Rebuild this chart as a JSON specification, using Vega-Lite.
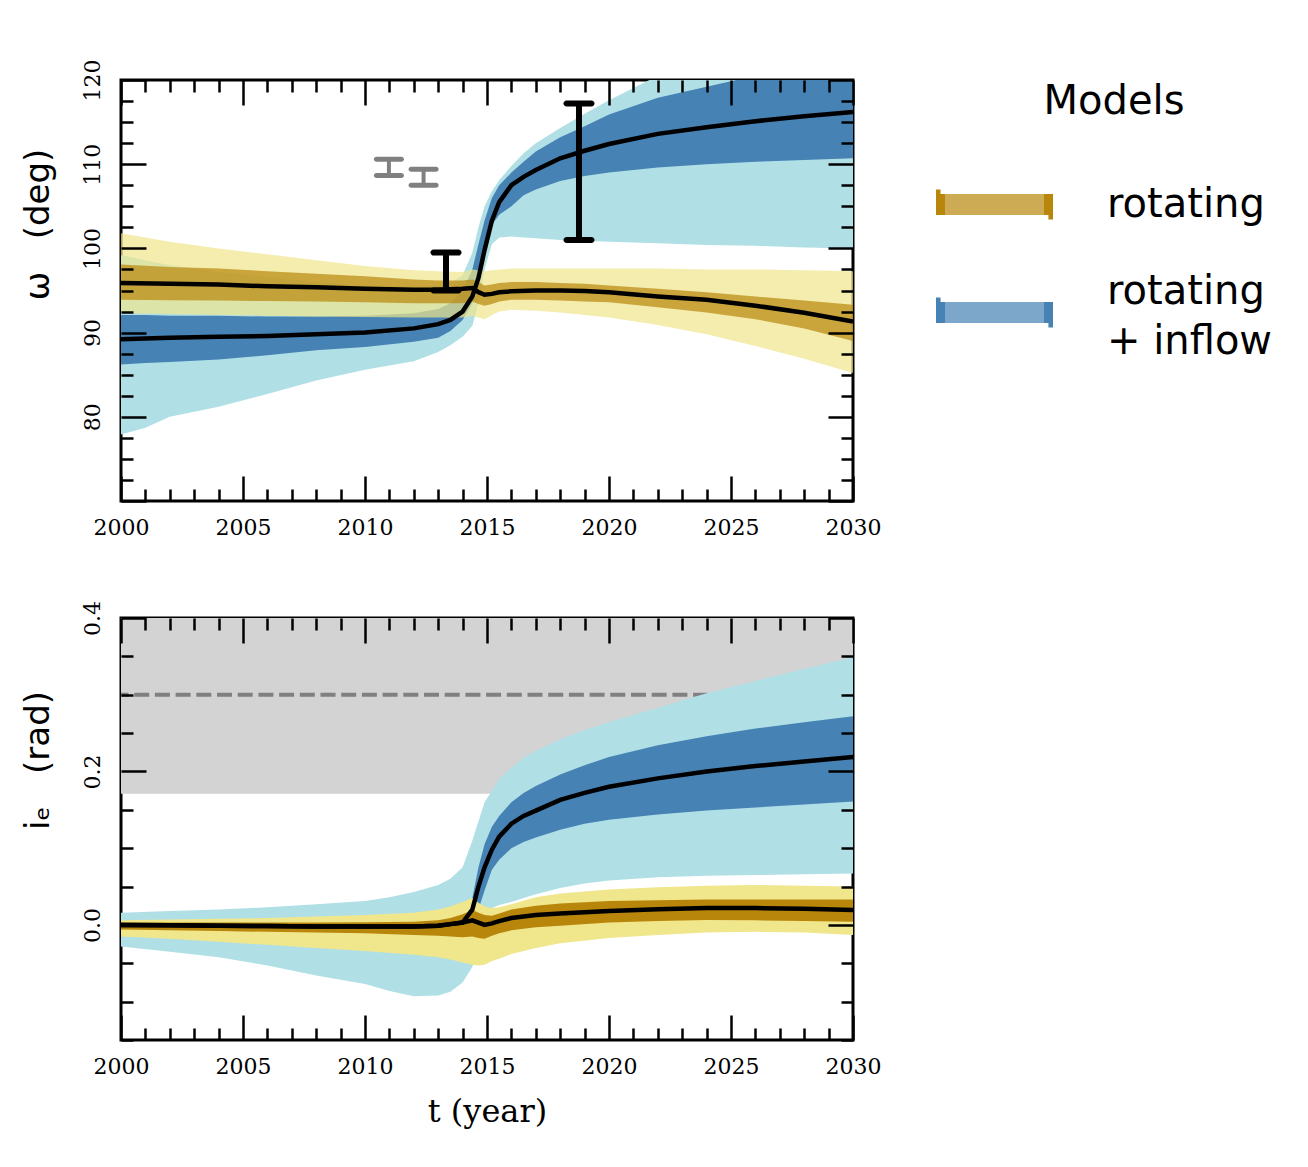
{
  "$schema": "https://vega.github.io/schema/vega-lite/v6.json",
  "background": "white",
  "padding": {"left": 19, "top": 57, "right": 0, "bottom": 0},
  "spacing": 46,
  "config": {
    "view": {"stroke": "black", "strokeWidth": 3},
    "axis": {"zindex": 1, "labelColor": "black", "tickColor": "black", "domain": false, "grid": false, "tickWidth": 2.5, "labelFlush": false, "labelOverlap": false, "labelFont": "DejaVu Serif", "labelFontSize": 22, "titleColor": "black", "titleFontWeight": "normal"}
  },
  "datasets": {
    "omega": [
      {"m":"rotating","t":2000,"lo95":92.3,"lo68":93.9,"mid":95.9,"hi68":98.1,"hi95":101.8},
      {"m":"rotating","t":2002,"lo95":92.2,"lo68":93.85,"mid":95.8,"hi68":97.8,"hi95":100.8},
      {"m":"rotating","t":2004,"lo95":92.1,"lo68":93.8,"mid":95.7,"hi68":97.6,"hi95":100.0},
      {"m":"rotating","t":2006,"lo95":92.0,"lo68":93.75,"mid":95.5,"hi68":97.3,"hi95":99.3},
      {"m":"rotating","t":2008,"lo95":91.9,"lo68":93.7,"mid":95.4,"hi68":97.0,"hi95":98.6},
      {"m":"rotating","t":2010,"lo95":91.85,"lo68":93.6,"mid":95.2,"hi68":96.7,"hi95":97.9},
      {"m":"rotating","t":2012,"lo95":91.8,"lo68":93.5,"mid":95.1,"hi68":96.3,"hi95":97.4},
      {"m":"rotating","t":2013,"lo95":91.8,"lo68":93.5,"mid":95.1,"hi68":96.2,"hi95":97.3},
      {"m":"rotating","t":2014,"lo95":91.8,"lo68":93.5,"mid":95.2,"hi68":96.2,"hi95":97.2},
      {"m":"rotating","t":2014.4,"lo95":92.0,"lo68":93.7,"mid":95.3,"hi68":96.3,"hi95":97.5},
      {"m":"rotating","t":2014.65,"lo95":91.8,"lo68":93.4,"mid":94.8,"hi68":96.0,"hi95":97.4},
      {"m":"rotating","t":2014.9,"lo95":91.6,"lo68":93.2,"mid":94.5,"hi68":95.6,"hi95":97.3},
      {"m":"rotating","t":2015.2,"lo95":92.1,"lo68":93.4,"mid":94.6,"hi68":95.7,"hi95":97.4},
      {"m":"rotating","t":2015.5,"lo95":92.5,"lo68":93.7,"mid":94.8,"hi68":95.9,"hi95":97.5},
      {"m":"rotating","t":2016,"lo95":92.7,"lo68":93.9,"mid":94.9,"hi68":96.0,"hi95":97.6},
      {"m":"rotating","t":2017,"lo95":92.6,"lo68":93.9,"mid":95.0,"hi68":96.0,"hi95":97.6},
      {"m":"rotating","t":2018,"lo95":92.4,"lo68":93.8,"mid":95.0,"hi68":95.9,"hi95":97.6},
      {"m":"rotating","t":2019,"lo95":92.1,"lo68":93.7,"mid":94.95,"hi68":95.8,"hi95":97.6},
      {"m":"rotating","t":2020,"lo95":91.8,"lo68":93.6,"mid":94.8,"hi68":95.6,"hi95":97.6},
      {"m":"rotating","t":2022,"lo95":90.9,"lo68":93.0,"mid":94.3,"hi68":95.2,"hi95":97.6},
      {"m":"rotating","t":2024,"lo95":89.8,"lo68":92.4,"mid":93.9,"hi68":94.8,"hi95":97.5},
      {"m":"rotating","t":2026,"lo95":88.4,"lo68":91.6,"mid":93.2,"hi68":94.3,"hi95":97.5},
      {"m":"rotating","t":2028,"lo95":86.9,"lo68":90.5,"mid":92.35,"hi68":93.8,"hi95":97.4},
      {"m":"rotating","t":2030,"lo95":85.2,"lo68":89.0,"mid":91.3,"hi68":93.3,"hi95":97.3},
      {"m":"rotating + inflow","t":2000,"lo95":77.9,"lo68":86.2,"mid":89.2,"hi68":92.1,"hi95":99.2},
      {"m":"rotating + inflow","t":2001,"lo95":78.7,"lo68":86.4,"mid":89.3,"hi68":92.1,"hi95":98.6},
      {"m":"rotating + inflow","t":2002,"lo95":80.0,"lo68":86.5,"mid":89.4,"hi68":92.0,"hi95":98.0},
      {"m":"rotating + inflow","t":2004,"lo95":81.2,"lo68":86.8,"mid":89.5,"hi68":92.0,"hi95":97.2},
      {"m":"rotating + inflow","t":2006,"lo95":82.7,"lo68":87.3,"mid":89.6,"hi68":91.9,"hi95":96.6},
      {"m":"rotating + inflow","t":2008,"lo95":84.3,"lo68":87.9,"mid":89.8,"hi68":91.9,"hi95":96.0},
      {"m":"rotating + inflow","t":2010,"lo95":85.6,"lo68":88.3,"mid":90.0,"hi68":92.0,"hi95":95.6},
      {"m":"rotating + inflow","t":2012,"lo95":86.6,"lo68":88.9,"mid":90.5,"hi68":92.3,"hi95":95.5},
      {"m":"rotating + inflow","t":2013,"lo95":87.7,"lo68":89.4,"mid":91.0,"hi68":92.8,"hi95":95.6},
      {"m":"rotating + inflow","t":2013.5,"lo95":88.5,"lo68":90.2,"mid":91.5,"hi68":93.5,"hi95":95.9},
      {"m":"rotating + inflow","t":2014,"lo95":89.5,"lo68":91.5,"mid":92.5,"hi68":95.0,"hi95":96.8},
      {"m":"rotating + inflow","t":2014.4,"lo95":90.8,"lo68":93.5,"mid":94.3,"hi68":97.5,"hi95":99.5},
      {"m":"rotating + inflow","t":2014.65,"lo95":93.5,"lo68":96.3,"mid":96.5,"hi68":100.5,"hi95":102.5},
      {"m":"rotating + inflow","t":2014.9,"lo95":97.5,"lo68":99.5,"mid":99.8,"hi68":103.3,"hi95":105.0},
      {"m":"rotating + inflow","t":2015.2,"lo95":100.5,"lo68":102.8,"mid":103.3,"hi68":106.0,"hi95":106.8},
      {"m":"rotating + inflow","t":2015.5,"lo95":101.3,"lo68":104.0,"mid":105.5,"hi68":107.5,"hi95":108.1},
      {"m":"rotating + inflow","t":2016,"lo95":101.4,"lo68":105.0,"mid":107.5,"hi68":109.0,"hi95":109.8},
      {"m":"rotating + inflow","t":2016.5,"lo95":101.3,"lo68":106.3,"mid":108.5,"hi68":110.3,"hi95":111.3},
      {"m":"rotating + inflow","t":2017,"lo95":101.2,"lo68":107.0,"mid":109.3,"hi68":111.5,"hi95":112.5},
      {"m":"rotating + inflow","t":2018,"lo95":101.0,"lo68":108.0,"mid":110.7,"hi68":113.2,"hi95":114.3},
      {"m":"rotating + inflow","t":2019,"lo95":100.9,"lo68":108.6,"mid":111.6,"hi68":114.5,"hi95":116.0},
      {"m":"rotating + inflow","t":2020,"lo95":100.8,"lo68":109.0,"mid":112.4,"hi68":115.9,"hi95":117.6},
      {"m":"rotating + inflow","t":2022,"lo95":100.6,"lo68":109.6,"mid":113.6,"hi68":117.9,"hi95":120.5},
      {"m":"rotating + inflow","t":2024,"lo95":100.4,"lo68":110.0,"mid":114.4,"hi68":119.2,"hi95":122.0},
      {"m":"rotating + inflow","t":2026,"lo95":100.3,"lo68":110.3,"mid":115.1,"hi68":120.5,"hi95":123.5},
      {"m":"rotating + inflow","t":2028,"lo95":100.1,"lo68":110.5,"mid":115.7,"hi68":121.5,"hi95":124.5},
      {"m":"rotating + inflow","t":2030,"lo95":100.0,"lo68":110.7,"mid":116.2,"hi68":122.5,"hi95":125.5}
    ],
    "incl": [
      {"m":"rotating","t":2000,"lo95":-0.015,"lo68":-0.006,"mid":0.0,"hi68":0.003,"hi95":0.006},
      {"m":"rotating","t":2002,"lo95":-0.018,"lo68":-0.007,"mid":-0.0005,"hi68":0.003,"hi95":0.007},
      {"m":"rotating","t":2004,"lo95":-0.022,"lo68":-0.008,"mid":-0.001,"hi68":0.003,"hi95":0.008},
      {"m":"rotating","t":2006,"lo95":-0.026,"lo68":-0.009,"mid":-0.0015,"hi68":0.003,"hi95":0.009},
      {"m":"rotating","t":2008,"lo95":-0.030,"lo68":-0.010,"mid":-0.002,"hi68":0.003,"hi95":0.011},
      {"m":"rotating","t":2010,"lo95":-0.034,"lo68":-0.011,"mid":-0.002,"hi68":0.0035,"hi95":0.013},
      {"m":"rotating","t":2012,"lo95":-0.039,"lo68":-0.013,"mid":-0.002,"hi68":0.004,"hi95":0.016},
      {"m":"rotating","t":2013,"lo95":-0.042,"lo68":-0.014,"mid":-0.001,"hi68":0.006,"hi95":0.020},
      {"m":"rotating","t":2013.5,"lo95":-0.045,"lo68":-0.015,"mid":0.001,"hi68":0.009,"hi95":0.024},
      {"m":"rotating","t":2014,"lo95":-0.049,"lo68":-0.016,"mid":0.003,"hi68":0.014,"hi95":0.030},
      {"m":"rotating","t":2014.4,"lo95":-0.052,"lo68":-0.015,"mid":0.006,"hi68":0.0195,"hi95":0.035},
      {"m":"rotating","t":2014.65,"lo95":-0.053,"lo68":-0.017,"mid":0.003,"hi68":0.016,"hi95":0.029},
      {"m":"rotating","t":2014.9,"lo95":-0.052,"lo68":-0.018,"mid":0.0,"hi68":0.013,"hi95":0.024},
      {"m":"rotating","t":2015.2,"lo95":-0.047,"lo68":-0.014,"mid":0.002,"hi68":0.012,"hi95":0.022},
      {"m":"rotating","t":2015.5,"lo95":-0.044,"lo68":-0.011,"mid":0.005,"hi68":0.015,"hi95":0.023},
      {"m":"rotating","t":2016,"lo95":-0.038,"lo68":-0.007,"mid":0.009,"hi68":0.020,"hi95":0.027},
      {"m":"rotating","t":2017,"lo95":-0.030,"lo68":-0.003,"mid":0.013,"hi68":0.025,"hi95":0.036},
      {"m":"rotating","t":2018,"lo95":-0.024,"lo68":-0.001,"mid":0.015,"hi68":0.028,"hi95":0.041},
      {"m":"rotating","t":2020,"lo95":-0.017,"lo68":0.003,"mid":0.018,"hi68":0.031,"hi95":0.046},
      {"m":"rotating","t":2022,"lo95":-0.013,"lo68":0.005,"mid":0.0205,"hi68":0.032,"hi95":0.049},
      {"m":"rotating","t":2024,"lo95":-0.010,"lo68":0.0065,"mid":0.022,"hi68":0.033,"hi95":0.051},
      {"m":"rotating","t":2026,"lo95":-0.009,"lo68":0.006,"mid":0.022,"hi68":0.033,"hi95":0.052},
      {"m":"rotating","t":2028,"lo95":-0.010,"lo68":0.005,"mid":0.021,"hi68":0.033,"hi95":0.051},
      {"m":"rotating","t":2030,"lo95":-0.013,"lo68":0.004,"mid":0.0195,"hi68":0.033,"hi95":0.050},
      {"m":"rotating + inflow","t":2000,"lo95":-0.028,"lo68":-0.004,"mid":0.0,"hi68":0.004,"hi95":0.016},
      {"m":"rotating + inflow","t":2002,"lo95":-0.035,"lo68":-0.004,"mid":-0.0005,"hi68":0.004,"hi95":0.018},
      {"m":"rotating + inflow","t":2004,"lo95":-0.042,"lo68":-0.005,"mid":-0.001,"hi68":0.004,"hi95":0.020},
      {"m":"rotating + inflow","t":2006,"lo95":-0.053,"lo68":-0.005,"mid":-0.0015,"hi68":0.004,"hi95":0.023},
      {"m":"rotating + inflow","t":2008,"lo95":-0.066,"lo68":-0.006,"mid":-0.002,"hi68":0.004,"hi95":0.027},
      {"m":"rotating + inflow","t":2010,"lo95":-0.077,"lo68":-0.006,"mid":-0.002,"hi68":0.004,"hi95":0.031},
      {"m":"rotating + inflow","t":2011,"lo95":-0.086,"lo68":-0.006,"mid":-0.002,"hi68":0.004,"hi95":0.036},
      {"m":"rotating + inflow","t":2012,"lo95":-0.093,"lo68":-0.006,"mid":-0.002,"hi68":0.005,"hi95":0.043},
      {"m":"rotating + inflow","t":2013,"lo95":-0.092,"lo68":-0.006,"mid":-0.001,"hi68":0.006,"hi95":0.052},
      {"m":"rotating + inflow","t":2013.5,"lo95":-0.087,"lo68":-0.005,"mid":0.001,"hi68":0.008,"hi95":0.060},
      {"m":"rotating + inflow","t":2014,"lo95":-0.075,"lo68":-0.003,"mid":0.003,"hi68":0.012,"hi95":0.075},
      {"m":"rotating + inflow","t":2014.4,"lo95":-0.055,"lo68":0.005,"mid":0.02,"hi68":0.035,"hi95":0.11},
      {"m":"rotating + inflow","t":2014.65,"lo95":-0.02,"lo68":0.02,"mid":0.05,"hi68":0.075,"hi95":0.135},
      {"m":"rotating + inflow","t":2014.9,"lo95":0.01,"lo68":0.045,"mid":0.075,"hi68":0.105,"hi95":0.16},
      {"m":"rotating + inflow","t":2015.2,"lo95":0.022,"lo68":0.072,"mid":0.098,"hi68":0.128,"hi95":0.175},
      {"m":"rotating + inflow","t":2015.5,"lo95":0.026,"lo68":0.085,"mid":0.115,"hi68":0.142,"hi95":0.19},
      {"m":"rotating + inflow","t":2016,"lo95":0.03,"lo68":0.1,"mid":0.132,"hi68":0.16,"hi95":0.205},
      {"m":"rotating + inflow","t":2016.5,"lo95":0.035,"lo68":0.108,"mid":0.142,"hi68":0.172,"hi95":0.218},
      {"m":"rotating + inflow","t":2017,"lo95":0.04,"lo68":0.114,"mid":0.149,"hi68":0.181,"hi95":0.227},
      {"m":"rotating + inflow","t":2018,"lo95":0.048,"lo68":0.124,"mid":0.163,"hi68":0.196,"hi95":0.242},
      {"m":"rotating + inflow","t":2019,"lo95":0.054,"lo68":0.132,"mid":0.172,"hi68":0.208,"hi95":0.254},
      {"m":"rotating + inflow","t":2020,"lo95":0.058,"lo68":0.137,"mid":0.18,"hi68":0.219,"hi95":0.264},
      {"m":"rotating + inflow","t":2022,"lo95":0.062,"lo68":0.144,"mid":0.191,"hi68":0.234,"hi95":0.283},
      {"m":"rotating + inflow","t":2024,"lo95":0.064,"lo68":0.149,"mid":0.2,"hi68":0.246,"hi95":0.302},
      {"m":"rotating + inflow","t":2026,"lo95":0.065,"lo68":0.153,"mid":0.207,"hi68":0.256,"hi95":0.318},
      {"m":"rotating + inflow","t":2028,"lo95":0.066,"lo68":0.157,"mid":0.213,"hi68":0.264,"hi95":0.334},
      {"m":"rotating + inflow","t":2030,"lo95":0.067,"lo68":0.161,"mid":0.219,"hi68":0.272,"hi95":0.349}
    ],
    "obs": [
      {"t":2010.98,"lo":108.65,"hi":110.6,"k":"earlier"},
      {"t":2012.4,"lo":107.5,"hi":109.4,"k":"earlier"},
      {"t":2013.32,"lo":95.0,"hi":99.5,"k":"new"},
      {"t":2018.77,"lo":101.0,"hi":117.2,"k":"new"}
    ],
    "limit": [{"lo":0.171,"hi":0.4,"ref":0.3}]
  },
  "vconcat": [
    {
      "width": 732,
      "height": 421,
      "data": {"name": "omega"},
      "layer": [
        {
          "transform": [{"filter": "datum.m === 'rotating + inflow'"}],
          "mark": {"type": "area", "color": "#b0e0e6", "clip": true},
          "encoding": {
            "x": {"field": "t", "type": "quantitative", "scale": {"domain": [2000, 2030], "nice": false, "zero": false},
              "axis": {"orient": "bottom", "zindex": 1, "values": [2000,2001,2002,2003,2004,2005,2006,2007,2008,2009,2010,2011,2012,2013,2014,2015,2016,2017,2018,2019,2020,2021,2022,2023,2024,2025,2026,2027,2028,2029,2030],
                "format": "d", "labelExpr": "datum.value % 5 === 0 ? datum.label : ''",
                "tickSize": {"condition": {"test": "datum.value % 5 === 0", "value": -25}, "value": -12},
                "labelPadding": 41, "title": null}},
            "y": {"field": "lo95", "type": "quantitative", "scale": {"domain": [70, 120], "nice": false, "zero": false},
              "axis": {"orient": "left", "zindex": 1, "values": [70,72.5,75,77.5,80,82.5,85,87.5,90,92.5,95,97.5,100,102.5,105,107.5,110,112.5,115,117.5,120],
                "format": "d", "labelExpr": "datum.value % 10 === 0 && datum.value >= 80 ? datum.label : ''",
                "tickSize": {"condition": {"test": "datum.value % 10 === 0", "value": -25}, "value": -12},
                "labelAngle": -90, "labelAlign": "center", "labelBaseline": "bottom", "labelPadding": 42,
                "title": "ω\u00a0\u00a0\u00a0(deg)", "titleFont": "DejaVu Sans", "titleFontSize": 34, "titlePadding": 13, "titleY": 144}},
            "y2": {"field": "hi95"}
          }
        },
        {
          "transform": [{"filter": "datum.m === 'rotating + inflow'"}],
          "mark": {"type": "area", "clip": true},
          "encoding": {
            "x": {"field": "t", "type": "quantitative", "axis": null},
            "y": {"field": "lo68", "type": "quantitative", "axis": null},
            "y2": {"field": "hi68"},
            "color": {"field": "m", "type": "nominal",
              "scale": {"domain": ["rotating", "rotating + inflow"], "range": ["#b8860b", "#4682b4"]},
              "legend": {"title": "Models", "orient": "none", "legendX": 815, "legendY": 2,
                "titleFont": "DejaVu Sans", "titleFontSize": 40, "titleFontWeight": "normal", "titleColor": "black", "titleAnchor": "middle", "titlePadding": 24,
                "labelFont": "DejaVu Sans", "labelFontSize": 40, "labelColor": "black", "labelLimit": 400, "labelOffset": 54,
                "labelExpr": "datum.label === 'rotating + inflow' ? ['rotating', '+ inflow'] : datum.label",
                "rowPadding": 21,
                "symbolType": "M-1,0.194V-0.194H1V0.194Z", "symbolSize": 11664, "symbolStrokeWidth": 9, "symbolDash": [21, 108, 21, 108],
                "encode": {
                  "title": {"update": {"dx": {"value": 10}}},
                  "symbols": {"update": {"fill": {"scale": "color", "field": "value"}, "stroke": {"scale": "color", "field": "value"}, "fillOpacity": {"value": 0.7}, "strokeOpacity": {"value": 1}, "opacity": {"value": 1}}},
                  "labels": {"update": {"lineHeight": {"value": 50}, "dy": {"signal": "datum.value === 'rotating + inflow' ? -21 : 0"}}}
                }}}
          }
        },
        {
          "transform": [{"filter": "datum.m === 'rotating'"}],
          "mark": {"type": "area", "color": "#f0e68c", "opacity": 0.7, "clip": true},
          "encoding": {
            "x": {"field": "t", "type": "quantitative", "axis": null},
            "y": {"field": "lo95", "type": "quantitative", "axis": null},
            "y2": {"field": "hi95"}
          }
        },
        {
          "transform": [{"filter": "datum.m === 'rotating'"}],
          "mark": {"type": "area", "opacity": 0.7, "clip": true},
          "encoding": {
            "x": {"field": "t", "type": "quantitative", "axis": null},
            "y": {"field": "lo68", "type": "quantitative", "axis": null},
            "y2": {"field": "hi68"},
            "color": {"field": "m", "type": "nominal"}
          }
        },
        {
          "mark": {"type": "line", "color": "black", "strokeWidth": 4.5, "clip": true},
          "encoding": {
            "x": {"field": "t", "type": "quantitative",
              "axis": {"orient": "top", "zindex": 1, "values": [2000,2001,2002,2003,2004,2005,2006,2007,2008,2009,2010,2011,2012,2013,2014,2015,2016,2017,2018,2019,2020,2021,2022,2023,2024,2025,2026,2027,2028,2029,2030],
                "labels": false, "tickSize": {"condition": {"test": "datum.value % 5 === 0", "value": -25}, "value": -12}, "title": null}},
            "y": {"field": "mid", "type": "quantitative",
              "axis": {"orient": "right", "zindex": 1, "values": [70,72.5,75,77.5,80,82.5,85,87.5,90,92.5,95,97.5,100,102.5,105,107.5,110,112.5,115,117.5,120],
                "labels": false, "tickSize": {"condition": {"test": "datum.value % 10 === 0", "value": -25}, "value": -12}, "title": null}},
            "detail": {"field": "m", "type": "nominal"}
          }
        },
        {
          "data": {"name": "obs"},
          "transform": [{"filter": "datum.k === 'earlier'"}],
          "mark": {"type": "rule", "color": "#808080", "strokeWidth": 4},
          "encoding": {
            "x": {"field": "t", "type": "quantitative", "axis": null},
            "y": {"field": "lo", "type": "quantitative", "axis": null},
            "y2": {"field": "hi"}
          }
        },
        {
          "data": {"name": "obs"},
          "transform": [{"filter": "datum.k === 'earlier'"}, {"fold": ["lo", "hi"], "as": ["end", "val"]}],
          "mark": {"type": "tick", "orient": "horizontal", "color": "#808080", "size": 30, "thickness": 5, "cornerRadius": 2.5, "opacity": 1},
          "encoding": {
            "x": {"field": "t", "type": "quantitative", "axis": null},
            "y": {"field": "val", "type": "quantitative", "axis": null}
          }
        },
        {
          "data": {"name": "obs"},
          "transform": [{"filter": "datum.k === 'new'"}],
          "mark": {"type": "rule", "color": "black", "strokeWidth": 6},
          "encoding": {
            "x": {"field": "t", "type": "quantitative", "axis": null},
            "y": {"field": "lo", "type": "quantitative", "axis": null},
            "y2": {"field": "hi"}
          }
        },
        {
          "data": {"name": "obs"},
          "transform": [{"filter": "datum.k === 'new'"}, {"fold": ["lo", "hi"], "as": ["end", "val"]}],
          "mark": {"type": "tick", "orient": "horizontal", "color": "black", "size": 31, "thickness": 6, "cornerRadius": 3, "opacity": 1},
          "encoding": {
            "x": {"field": "t", "type": "quantitative", "axis": null},
            "y": {"field": "val", "type": "quantitative", "axis": null}
          }
        }
      ]
    },
    {
      "width": 732,
      "height": 422,
      "data": {"name": "incl"},
      "layer": [
        {
          "data": {"name": "limit"},
          "mark": {"type": "rect", "color": "#d3d3d3"},
          "encoding": {
            "y": {"field": "lo", "type": "quantitative", "scale": {"domain": [-0.15, 0.4], "nice": false, "zero": false},
              "axis": {"orient": "left", "zindex": 1, "values": [-0.15,-0.1,-0.05,0,0.05,0.1,0.15,0.2,0.25,0.3,0.35,0.4],
                "format": ".1f", "labelExpr": "abs(round(datum.value*20)) % 4 === 0 ? datum.label : ''",
                "tickSize": {"condition": {"test": "abs(round(datum.value*20)) % 4 === 0", "value": -25}, "value": -12},
                "labelAngle": -90, "labelAlign": "center", "labelBaseline": "bottom", "labelPadding": 42,
                "title": "iₑ\u00a0\u00a0\u00a0(rad)", "titleFont": "DejaVu Sans", "titleFontSize": 34, "titlePadding": 13, "titleY": 142}},
            "y2": {"field": "hi"}
          }
        },
        {
          "data": {"name": "limit"},
          "mark": {"type": "rule", "color": "#808080", "strokeWidth": 4, "strokeDash": [15, 5.7]},
          "encoding": {
            "y": {"field": "ref", "type": "quantitative", "axis": null}
          }
        },
        {
          "transform": [{"filter": "datum.m === 'rotating + inflow'"}],
          "mark": {"type": "area", "color": "#b0e0e6", "clip": true},
          "encoding": {
            "x": {"field": "t", "type": "quantitative", "scale": {"domain": [2000, 2030], "nice": false, "zero": false},
              "axis": {"orient": "bottom", "zindex": 1, "values": [2000,2001,2002,2003,2004,2005,2006,2007,2008,2009,2010,2011,2012,2013,2014,2015,2016,2017,2018,2019,2020,2021,2022,2023,2024,2025,2026,2027,2028,2029,2030],
                "format": "d", "labelExpr": "datum.value % 5 === 0 ? datum.label : ''",
                "tickSize": {"condition": {"test": "datum.value % 5 === 0", "value": -25}, "value": -12},
                "labelPadding": 41, "title": "t  (year)", "titleFont": "DejaVu Serif", "titleFontSize": 32, "titlePadding": 6}},
            "y": {"field": "lo95", "type": "quantitative", "axis": null},
            "y2": {"field": "hi95"}
          }
        },
        {
          "transform": [{"filter": "datum.m === 'rotating + inflow'"}],
          "mark": {"type": "area", "color": "#4682b4", "clip": true},
          "encoding": {
            "x": {"field": "t", "type": "quantitative", "axis": null},
            "y": {"field": "lo68", "type": "quantitative", "axis": null},
            "y2": {"field": "hi68"}
          }
        },
        {
          "transform": [{"filter": "datum.m === 'rotating'"}],
          "mark": {"type": "area", "color": "#f0e68c", "clip": true},
          "encoding": {
            "x": {"field": "t", "type": "quantitative", "axis": null},
            "y": {"field": "lo95", "type": "quantitative", "axis": null},
            "y2": {"field": "hi95"}
          }
        },
        {
          "transform": [{"filter": "datum.m === 'rotating'"}],
          "mark": {"type": "area", "color": "#b8860b", "clip": true},
          "encoding": {
            "x": {"field": "t", "type": "quantitative", "axis": null},
            "y": {"field": "lo68", "type": "quantitative", "axis": null},
            "y2": {"field": "hi68"}
          }
        },
        {
          "mark": {"type": "line", "color": "black", "strokeWidth": 4.5, "clip": true},
          "encoding": {
            "x": {"field": "t", "type": "quantitative",
              "axis": {"orient": "top", "zindex": 1, "values": [2000,2001,2002,2003,2004,2005,2006,2007,2008,2009,2010,2011,2012,2013,2014,2015,2016,2017,2018,2019,2020,2021,2022,2023,2024,2025,2026,2027,2028,2029,2030],
                "labels": false, "tickSize": {"condition": {"test": "datum.value % 5 === 0", "value": -25}, "value": -12}, "title": null}},
            "y": {"field": "mid", "type": "quantitative",
              "axis": {"orient": "right", "zindex": 1, "values": [-0.15,-0.1,-0.05,0,0.05,0.1,0.15,0.2,0.25,0.3,0.35,0.4],
                "labels": false, "tickSize": {"condition": {"test": "abs(round(datum.value*20)) % 4 === 0", "value": -25}, "value": -12}, "title": null}},
            "detail": {"field": "m", "type": "nominal"}
          }
        }
      ]
    }
  ]
}
